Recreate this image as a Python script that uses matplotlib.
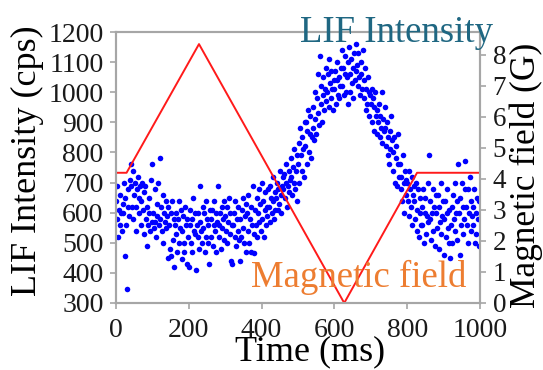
import numpy as np
import matplotlib.pyplot as plt

plt.rcParams['font.family'] = ['Liberation Serif', 'DejaVu Serif']

# LIF counts, 10 samples per 20 ms bin (2 ms sampling)
lif = [
    640, 580, 690, 520, 610, 560, 660, 600, 540, 630,
    600, 700, 455, 650, 560, 345, 620, 680, 590, 710,
    760, 690, 620, 740, 580, 660, 700, 540, 620, 680,
    720, 650, 600, 690, 560, 640, 700, 610, 530, 670,
    690, 580, 620, 490, 560, 650, 600, 540, 710, 570,
    760, 600, 550, 680, 570, 520, 630, 590, 700, 560,
    780, 580, 620, 540, 660, 500, 600, 570, 640, 550,
    590, 450, 620, 560, 480, 600, 455, 640, 510, 580,
    420, 560, 600, 530, 470, 580, 640, 500, 550, 610,
    445, 540, 590, 500, 470, 620, 560, 430, 580, 520,
    420, 560, 610, 500, 470, 580, 650, 540, 600, 530,
    410, 560, 520, 600, 480, 570, 690, 540, 500, 620,
    550, 600, 470, 520, 640, 580, 500, 560, 430, 610,
    580, 520, 610, 490, 560, 640, 540, 600, 470, 570,
    690, 560, 520, 600, 480, 620, 550, 580, 510, 640,
    590, 540, 620, 500, 570, 650, 530, 600, 440, 560,
    430, 560, 600, 520, 640, 490, 580, 540, 620, 510,
    440, 580, 520, 610, 550, 650, 500, 590, 470, 630,
    600, 540, 660, 500, 580, 620, 470, 560, 690, 530,
    465, 610, 560, 650, 520, 600, 680, 570, 630, 540,
    700, 580, 640, 520, 610, 670, 560, 620, 590, 680,
    620, 690, 570, 650, 600, 720, 640, 580, 670, 610,
    650, 700, 610, 680, 630, 740, 660, 600, 690, 720,
    680, 730, 650, 700, 760, 620, 690, 740, 670, 710,
    720, 780, 660, 750, 700, 810, 680, 740, 640, 790,
    760, 830, 700, 880, 790, 740, 850, 810, 720, 900,
    820, 900, 760, 870, 940, 800, 860, 920, 780, 850,
    880, 950, 840, 1000, 910, 860, 980, 930, 1060, 890,
    1120, 960, 1020, 900, 990, 1050, 940, 1010, 970, 1080,
    1000, 1060, 950, 1110, 1030, 980, 1070, 1010, 940, 1040,
    1010, 1070, 960, 1040, 1100, 990, 1050, 980, 1020, 1080,
    1140, 1020, 1080, 990, 1060, 1120, 1000, 1050, 960, 1100,
    1150, 1060, 1000, 1110, 1030, 1080, 980, 1130, 1040, 1070,
    1160, 1090, 1020, 1130, 1050, 990, 1100, 1060, 1010, 1140,
    1040, 980, 1080, 940, 1010, 960, 1050, 920, 1000, 990,
    960, 1010, 900, 980, 870, 950, 1000, 920, 860, 940,
    900, 960, 850, 920, 880, 1000, 830, 910, 870, 950,
    880, 820, 900, 790, 850, 760, 870, 810, 920, 840,
    800, 740, 850, 700, 780, 820, 690, 760, 860, 720,
    760, 680, 720, 640, 790, 700, 600, 740, 660, 710,
    700, 640, 740, 590, 680, 620, 720, 560, 660, 690,
    640, 580, 700, 540, 610, 680, 520, 600, 650, 560,
    620, 560, 680, 500, 600, 650, 530, 590, 700, 570,
    790, 580, 640, 510, 600, 680, 540, 620, 490, 660,
    600, 550, 660, 480, 620, 570, 700, 530, 590, 640,
    460, 580, 640, 520, 600, 680, 550, 610, 500, 450,
    560, 620, 500, 660, 580, 700, 540, 600, 640, 510,
    760, 600, 460, 650, 560, 700, 530, 620, 580, 680,
    770, 620, 560, 680, 500, 600, 720, 540, 640, 590,
    620, 560, 680, 500, 600, 530, 650, 580, 490, 640,
]
t_lif = np.arange(len(lif)) * 2

# magnetic field ramp
t_field = [0, 29, 228, 627, 827, 1000]
field = [4.2, 4.2, 8.35, 0, 4.2, 4.2]

gray = '#a6a6a6'

fig = plt.figure(figsize=(5.43, 3.70), dpi=100)
ax = fig.add_axes([116/543, 1-303/370, 364/543, 271/370])
ax.scatter(t_lif, lif, s=16, color='#0000ff', linewidths=0, zorder=3)
ax.set_xlim(0, 1000)
ax.set_ylim(300, 1200)
ax.set_xticks(range(0, 1001, 200))
ax.set_yticks(range(300, 1201, 100))
ax.set_xlabel('Time (ms)', fontsize=26, va='baseline')
ax.xaxis.set_label_coords(0.533, -0.212)
ax.set_ylabel('LIF Intensity (cps)', fontsize=26, va='center')
ax.yaxis.set_label_coords(-0.242, 0.524)

ax2 = ax.twinx()
ax2.plot(t_field, field, color='#ff1a1a', lw=1.4)
ax2.set_ylim(0, 8.74)
ax2.set_yticks(range(0, 9))
ax2.set_ylabel('Magnetic field (G)', fontsize=25.5, va='center')
ax2.yaxis.set_label_coords(1.126, 0.472)

for a in (ax, ax2):
    for s in a.spines.values():
        s.set_color(gray)
        s.set_linewidth(1.5)
    a.tick_params(colors=gray, labelcolor='#1a1a1a', labelsize=20,
                  length=4, width=1.2, direction='out', pad=5)
ax.tick_params(axis='x', pad=7)
ax2.tick_params(labelsize=19.5)

fig.text(397/543, 1-42/370, 'LIF Intensity', color='#1f6782', fontsize=26.5,
         ha='center', va='baseline')
fig.text(359/543, 1-287/370, 'Magnetic field', color='#ed7d31', fontsize=26.5,
         ha='center', va='baseline')

fig.savefig('out.png', dpi=100)
